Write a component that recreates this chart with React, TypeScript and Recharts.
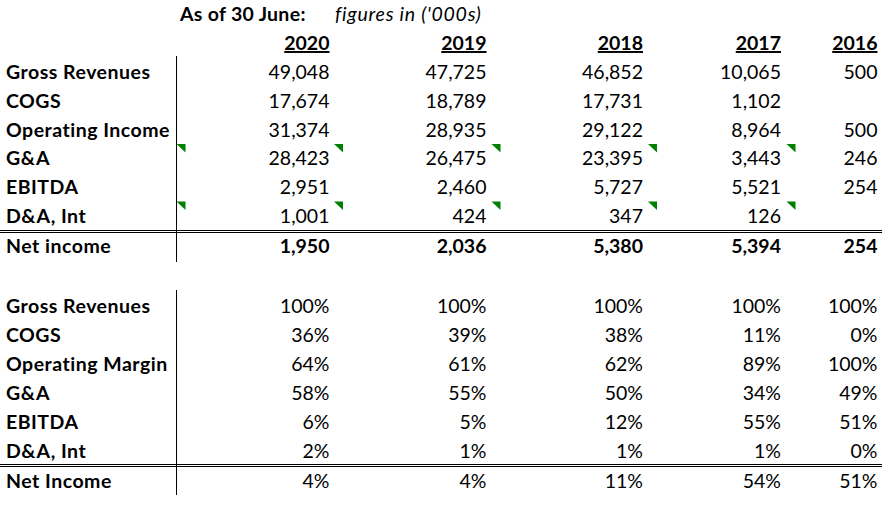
import React from 'react';
import { ScatterChart, Scatter, XAxis, YAxis, ReferenceLine } from 'recharts';

// ---------- data ----------
const headerTitle = 'As of 30 June:';
const headerNote = "figures in ('000s)";
const years = ['2020', '2019', '2018', '2017', '2016'];

const topLabels = ['Gross Revenues', 'COGS', 'Operating Income', 'G&A', 'EBITDA', 'D&A, Int', 'Net income'];
const grossRevenues: (number | null)[] = [49048, 47725, 46852, 10065, 500];
const cogs: (number | null)[] = [17674, 18789, 17731, 1102, null];
const operatingIncome: (number | null)[] = [31374, 28935, 29122, 8964, 500];
const gAndA: (number | null)[] = [28423, 26475, 23395, 3443, 246];
const ebitda: (number | null)[] = [2951, 2460, 5727, 5521, 254];
const dAndAInt: (number | null)[] = [1001, 424, 347, 126, null];
const netIncome: (number | null)[] = [1950, 2036, 5380, 5394, 254];

const bottomLabels = ['Gross Revenues', 'COGS', 'Operating Margin', 'G&A', 'EBITDA', 'D&A, Int', 'Net Income'];
const grossRevenuesPct = [100, 100, 100, 100, 100];
const cogsPct = [36, 39, 38, 11, 0];
const operatingMarginPct = [64, 61, 62, 89, 100];
const gAndAPct = [58, 55, 50, 34, 49];
const ebitdaPct = [6, 5, 12, 55, 51];
const dAndAIntPct = [2, 1, 1, 1, 0];
const netIncomePct = [4, 4, 11, 54, 51];

// rows (of the top table) carrying cell-comment markers, and in which columns (-1 = label column)
const commentRows = [3, 5];
const commentCols = [-1, 0, 1, 2, 3];

// ---------- layout ----------
const W = 892;
const H = 505;
const FONT = 'Lato, "Noto Sans", sans-serif';
const FS = 19.5;
const LABEL_X = 6;
const COL_RIGHT = [329.5, 486.5, 643, 781, 877.5];
const LABEL_COL_RIGHT = 185.5;
const MARK_RIGHT = [343, 500.5, 657, 795.5];
const HEADER_Y = 21;
const YEARS_Y = 50;
const TOP_ROW_Y = [79, 108, 136.5, 165, 194, 222.5, 253];
const BOTTOM_ROW_Y = [312.5, 341.5, 370.5, 399.5, 428.5, 458, 488];

type Cell = {
  x: number;
  y: number;
  text: string;
  bold?: boolean;
  italic?: boolean;
  anchor?: 'start' | 'end';
  underline?: boolean;
  spacing?: number;
};

const topValues = [grossRevenues, cogs, operatingIncome, gAndA, ebitda, dAndAInt, netIncome];
const bottomValues = [grossRevenuesPct, cogsPct, operatingMarginPct, gAndAPct, ebitdaPct, dAndAIntPct, netIncomePct];

const cells: Cell[] = [];
cells.push({ x: 180, y: HEADER_Y, text: headerTitle, bold: true, spacing: 0.3 });
cells.push({ x: 335, y: HEADER_Y, text: headerNote, italic: true, spacing: 0.75 });
years.forEach((yr, c) => cells.push({ x: COL_RIGHT[c], y: YEARS_Y, text: yr, bold: true, anchor: 'end', underline: true }));

topLabels.forEach((lab, r) => {
  cells.push({ x: LABEL_X, y: TOP_ROW_Y[r], text: lab, bold: true, spacing: 0.5 });
  topValues[r].forEach((v, c) => {
    if (v === null) return;
    cells.push({
      x: COL_RIGHT[c],
      y: TOP_ROW_Y[r],
      text: v.toLocaleString('en-US'),
      anchor: 'end',
      bold: r === topLabels.length - 1,
    });
  });
});

bottomLabels.forEach((lab, r) => {
  cells.push({ x: LABEL_X, y: BOTTOM_ROW_Y[r], text: lab, bold: true, spacing: 0.5 });
  bottomValues[r].forEach((v, c) => {
    cells.push({ x: COL_RIGHT[c], y: BOTTOM_ROW_Y[r], text: `${v}%`, anchor: 'end' });
  });
});

const marks: { x: number; y: number }[] = [];
commentRows.forEach((r) => {
  commentCols.forEach((c) => {
    marks.push({ x: c < 0 ? LABEL_COL_RIGHT : MARK_RIGHT[c], y: TOP_ROW_Y[r] - 21 });
  });
});

const renderCell = (props: any) => {
  const { cx, cy, payload } = props;
  const p = payload as Cell;
  return (
    <text
      x={cx}
      y={cy}
      textAnchor={p.anchor || 'start'}
      fontFamily={FONT}
      fontSize={FS}
      fontWeight={p.bold ? 700 : 400}
      fontStyle={p.italic ? 'italic' : 'normal'}
      letterSpacing={p.spacing || 0}
      fill="#000"
      style={p.underline ? { textDecoration: 'underline' } : undefined}
    >
      {p.text}
    </text>
  );
};

const renderMark = (props: any) => {
  const { cx, cy } = props;
  return <polygon points={`${cx - 9},${cy} ${cx},${cy} ${cx},${cy + 8.5}`} fill="#008000" />;
};

export default function App() {
  return (
    <div style={{ position: 'absolute', left: 0, top: 0, width: W, height: H, background: '#fff' }}>
      <ScatterChart width={W} height={H} margin={{ top: 0, right: 0, bottom: 0, left: 0 }}>
        <XAxis type="number" dataKey="x" domain={[0, W]} hide />
        <YAxis type="number" dataKey="y" domain={[0, H]} reversed hide />
        <ReferenceLine segment={[{ x: 176.5, y: 56 }, { x: 176.5, y: 262 }]} stroke="#000" strokeWidth={1} ifOverflow="visible" />
        <ReferenceLine segment={[{ x: 176.5, y: 290 }, { x: 176.5, y: 495 }]} stroke="#000" strokeWidth={1} ifOverflow="visible" />
        <ReferenceLine segment={[{ x: 0, y: 230.5 }, { x: 882, y: 230.5 }]} stroke="#000" strokeWidth={1} ifOverflow="visible" />
        <ReferenceLine segment={[{ x: 0, y: 232.5 }, { x: 882, y: 232.5 }]} stroke="#000" strokeWidth={1} ifOverflow="visible" />
        <ReferenceLine segment={[{ x: 0, y: 464.5 }, { x: 882, y: 464.5 }]} stroke="#000" strokeWidth={1} ifOverflow="visible" />
        <ReferenceLine segment={[{ x: 0, y: 466.5 }, { x: 882, y: 466.5 }]} stroke="#000" strokeWidth={1} ifOverflow="visible" />
        <Scatter data={cells} shape={renderCell} isAnimationActive={false} />
        <Scatter data={marks} shape={renderMark} isAnimationActive={false} />
      </ScatterChart>
    </div>
  );
}
